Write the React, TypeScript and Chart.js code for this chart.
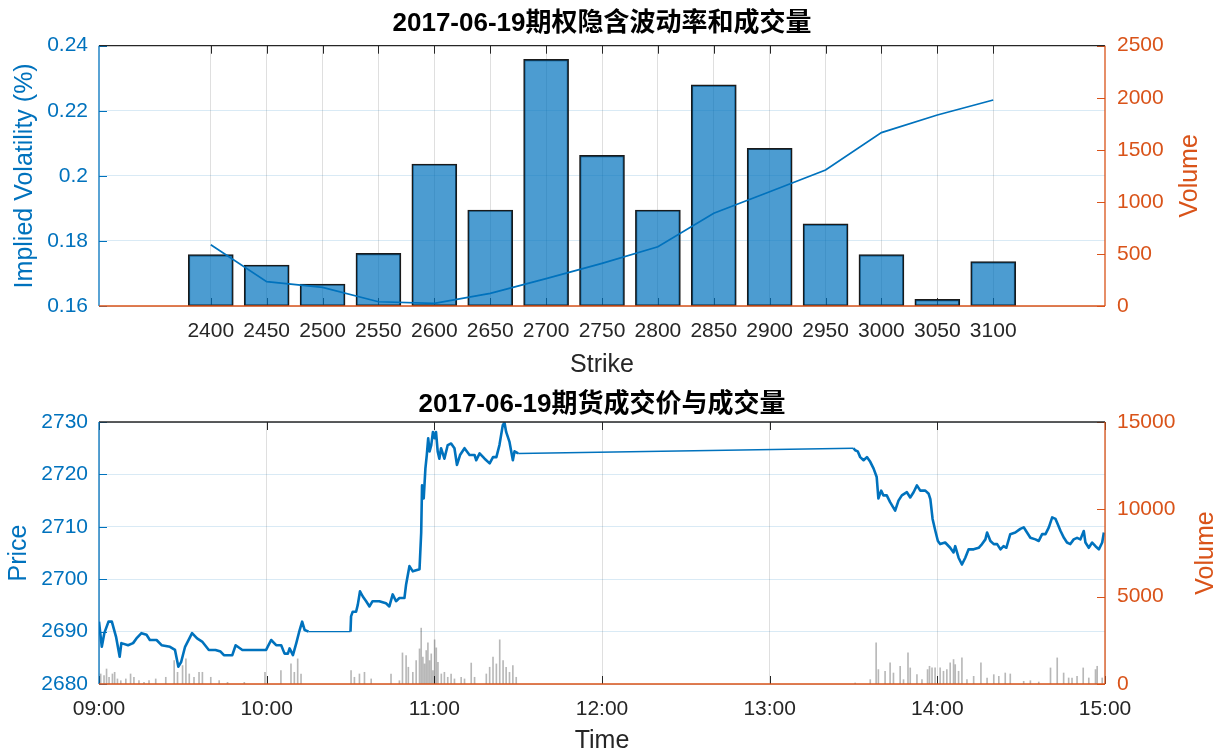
import React, { useEffect, useRef } from 'react';
import { Chart, registerables } from 'chart.js';

Chart.register(...registerables);

const FONT = '"Liberation Sans", Arial, "Noto Sans CJK SC", sans-serif';
const BLUE = '#0072BD';
const ORANGE = '#D95319';
const DARK = '#262626';

// ---------- Top chart: option implied volatility & volume ----------
const strikes = [2400, 2450, 2500, 2550, 2600, 2650, 2700, 2750, 2800, 2850, 2900, 2950, 3000, 3050, 3100];
const optionVolume = [493, 394, 211, 506, 1364, 922, 2369, 1447, 922, 2123, 1515, 788, 493, 64, 426];
const impliedVol = [0.1788, 0.1675, 0.1657, 0.1613, 0.1608, 0.1639, 0.1684, 0.1731, 0.1782, 0.1885, 0.1951, 0.2018, 0.2133, 0.2187, 0.2233];

// ---------- Bottom chart: futures price & volume (minutes after 09:00) ----------
const hourLabels = ['09:00', '10:00', '11:00', '12:00', '13:00', '14:00', '15:00'];

const morning1Minutes = [0, 1.0, 1.9, 3.4, 4.6, 6.1, 7.4, 8.0, 10.4, 12.2, 13.4, 15.2, 17.0, 18.2, 20.6, 22.4, 25.4, 27.2, 28.4, 29.4, 30.8, 33.3, 35.1, 36.9, 39.3, 41.7, 43.5, 44.7, 47.7, 48.9, 51.3, 54.9, 59.8, 61.6, 63.4, 65.2, 66.4, 67.6, 68.2, 69.4, 70.6, 71.8, 72.7, 73.6, 75.0];
const morning1Prices = [2691.9, 2687.1, 2689.7, 2691.9, 2691.9, 2689.0, 2685.2, 2687.8, 2687.4, 2687.8, 2688.7, 2689.7, 2689.4, 2688.4, 2688.4, 2687.4, 2687.1, 2686.5, 2683.3, 2684.2, 2687.1, 2689.7, 2688.7, 2688.1, 2686.5, 2686.5, 2686.2, 2685.5, 2685.5, 2687.4, 2686.5, 2686.5, 2686.5, 2688.4, 2687.4, 2687.4, 2685.8, 2685.8, 2686.8, 2685.5, 2687.8, 2690.3, 2691.9, 2690.3, 2690.0];

const morning2Minutes = [90.0, 90.2, 90.8, 92.0, 92.6, 93.4, 94.4, 95.6, 96.8, 97.9, 100.3, 102.7, 103.9, 105.1, 106.3, 107.5, 109.3, 109.9, 111.1, 112.3, 114.7, 115.3, 115.6, 116.2, 116.8, 117.3, 117.8, 118.3, 118.9, 119.5, 120.1, 120.6, 121.2, 121.8, 122.4, 123.6, 124.8, 126.0, 127.2, 128.1, 129.2, 130.8, 132.6, 134.4, 135.0, 136.2, 138.0, 139.8, 141.0, 142.2, 143.3, 144.5, 145.1, 145.7, 146.9, 148.1, 148.7, 150.0];
const morning2Prices = [2690.0, 2692.9, 2693.8, 2693.8, 2695.1, 2697.7, 2696.7, 2695.8, 2694.8, 2695.8, 2695.8, 2695.4, 2694.8, 2697.1, 2695.8, 2696.4, 2696.4, 2699.0, 2702.5, 2701.5, 2701.9, 2708.9, 2717.9, 2715.4, 2721.1, 2723.7, 2726.9, 2724.4, 2725.6, 2728.1, 2726.9, 2728.1, 2724.4, 2723.0, 2725.0, 2723.0, 2725.6, 2725.9, 2725.0, 2721.8, 2723.7, 2725.0, 2723.7, 2723.7, 2722.7, 2724.0, 2723.0, 2722.1, 2723.3, 2723.3, 2725.6, 2729.4, 2729.9, 2728.1, 2726.2, 2722.7, 2724.4, 2724.0];

const afternoonMinutes = [270.0, 270.6, 271.5, 272.4, 273.6, 274.8, 276.0, 277.2, 278.3, 278.9, 279.9, 280.7, 281.9, 283.1, 284.9, 286.1, 287.3, 289.1, 290.3, 291.5, 292.7, 293.9, 295.7, 296.9, 297.5, 298.3, 299.3, 300.2, 301.0, 302.8, 304.6, 305.8, 306.4, 307.6, 308.8, 310.0, 311.2, 313.0, 314.8, 316.0, 317.2, 317.8, 319.0, 320.2, 321.4, 322.6, 323.7, 324.7, 326.1, 327.9, 329.7, 330.9, 332.1, 333.3, 335.1, 336.3, 337.5, 338.7, 339.9, 341.1, 342.3, 343.1, 344.1, 345.3, 346.4, 347.6, 348.8, 350.0, 351.2, 352.4, 353.0, 354.2, 355.4, 356.6, 357.8, 359.0, 359.6];
const afternoonPrices = [2725.0, 2724.6, 2724.4, 2723.3, 2722.7, 2723.3, 2722.4, 2721.1, 2719.5, 2715.4, 2716.9, 2716.0, 2716.0, 2714.7, 2713.1, 2715.0, 2716.0, 2716.6, 2715.6, 2716.6, 2717.9, 2716.9, 2716.9, 2716.3, 2715.3, 2711.5, 2709.2, 2707.3, 2706.7, 2707.0, 2706.0, 2705.1, 2706.3, 2704.1, 2702.8, 2704.1, 2705.7, 2705.7, 2706.0, 2706.7, 2707.6, 2708.9, 2707.3, 2706.7, 2706.7, 2705.7, 2706.3, 2706.0, 2708.6, 2708.9, 2709.6, 2709.9, 2708.9, 2707.9, 2707.6, 2707.3, 2708.6, 2708.6, 2709.9, 2711.8, 2711.5, 2710.5, 2709.2, 2707.9, 2707.0, 2706.7, 2707.6, 2707.9, 2707.6, 2709.2, 2707.0, 2706.0, 2707.0, 2706.3, 2705.7, 2707.0, 2708.9];

const volMinutes = [0.6, 1.8, 2.7, 3.6, 4.8, 5.6, 6.6, 7.8, 9.6, 11.3, 12.5, 14.3, 16.1, 17.9, 20.3, 23.9, 26.9, 28.1, 29.9, 31.1, 32.3, 34.0, 35.8, 37.0, 40.0, 43.0, 46.0, 52.0, 59.4, 65.1, 68.7, 69.9, 71.1, 72.3,
  90.2, 91.4, 93.2, 95.0, 97.4, 104.5, 107.5, 108.6, 109.9, 110.7, 112.3, 113.5, 114.7, 115.3, 115.9, 116.5, 117.1, 117.7, 118.3, 118.9, 119.5, 120.1, 120.7, 121.3, 122.5, 123.6, 124.8, 126.0, 127.2, 129.6, 130.8, 133.2, 134.4, 138.6, 139.8, 141.0, 142.2, 143.4, 144.6, 145.7, 146.9, 148.1, 149.3,
  270.6, 276.0, 278.1, 278.9, 281.3, 283.1, 284.3, 286.7, 287.9, 289.5, 290.3, 292.7, 294.5, 296.5, 297.2, 298.1, 299.2, 301.0, 302.2, 303.4, 304.6, 305.8, 306.4, 307.6, 308.8, 310.6, 313.0, 315.6, 317.8, 320.2, 322.0, 324.3, 326.1, 330.9, 333.3, 336.3, 340.5, 342.9, 345.2, 347.0, 348.2, 350.0, 352.2, 354.2, 356.6, 357.2, 359.0];
const volValues = [575, 480, 860, 385, 575, 670, 290, 190, 290, 575, 385, 190, 95, 190, 290, 385, 1340, 670, 1055, 1440, 575, 385, 670, 670, 385, 190, 95, 95, 670, 765, 1150, 670, 1440, 575,
  765, 385, 575, 670, 290, 575, 190, 1780, 1630, 960, 670, 1340, 2010, 3200, 1535, 1150, 1915, 2360, 1340, 1725, 765, 2530, 2070, 1245, 575, 670, 385, 575, 290, 385, 290, 1200, 385, 575, 960, 1535, 1150, 2530, 1340, 960, 670, 1055, 385,
  60, 250, 2360, 825, 730, 1210, 630, 1015, 250, 1780, 920, 535, 250, 825, 1015, 920, 920, 920, 730, 825, 1210, 1400, 1110, 730, 1495, 250, 440, 1210, 345, 535, 440, 630, 575, 155, 190, 115, 920, 1495, 630, 345, 345, 440, 920, 345, 825, 1015, 345];

const W = 1229;
const TOP_H = 380;
const BOT_H = 376;

function framePlugin(rightTitle: string, rightTitleX: number) {
  return {
    id: 'frame',
    beforeDatasetsDraw(chart: any) {
      const { ctx, chartArea: a, scales } = chart;
      const L = 8;
      ctx.save();
      ctx.lineWidth = 1;
      ctx.strokeStyle = DARK;
      scales.x.ticks.forEach((t: any) => {
        const p = Math.round(scales.x.getPixelForValue(t.value)) + 0.5;
        ctx.beginPath();
        ctx.moveTo(p, a.top);
        ctx.lineTo(p, a.top + L);
        ctx.moveTo(p, a.bottom);
        ctx.lineTo(p, a.bottom - L);
        ctx.stroke();
      });
      ctx.strokeStyle = BLUE;
      scales.y.ticks.forEach((t: any) => {
        const p = Math.round(scales.y.getPixelForValue(t.value)) + 0.5;
        ctx.beginPath();
        ctx.moveTo(a.left, p);
        ctx.lineTo(a.left + L, p);
        ctx.stroke();
      });
      ctx.strokeStyle = ORANGE;
      scales.y1.ticks.forEach((t: any) => {
        const p = Math.round(scales.y1.getPixelForValue(t.value)) + 0.5;
        ctx.beginPath();
        ctx.moveTo(a.right, p);
        ctx.lineTo(a.right - L, p);
        ctx.stroke();
      });
      ctx.restore();
    },
    afterDatasetsDraw(chart: any) {
      const { ctx, chartArea: a } = chart;
      ctx.save();
      ctx.lineWidth = 1.3;
      ctx.strokeStyle = DARK;
      ctx.beginPath();
      ctx.moveTo(a.left, a.top);
      ctx.lineTo(a.right, a.top);
      ctx.stroke();
      ctx.strokeStyle = BLUE;
      ctx.beginPath();
      ctx.moveTo(a.left, a.top);
      ctx.lineTo(a.left, a.bottom);
      ctx.stroke();
      ctx.strokeStyle = ORANGE;
      ctx.beginPath();
      ctx.moveTo(a.left, a.bottom);
      ctx.lineTo(a.right, a.bottom);
      ctx.moveTo(a.right, a.top);
      ctx.lineTo(a.right, a.bottom);
      ctx.stroke();
      ctx.restore();
    },
    afterDraw(chart: any) {
      const { ctx, chartArea: a } = chart;
      ctx.save();
      ctx.font = `25px ${FONT}`;
      ctx.fillStyle = ORANGE;
      ctx.textAlign = 'center';
      ctx.textBaseline = 'middle';
      ctx.translate(rightTitleX, (a.top + a.bottom) / 2);
      ctx.rotate(-Math.PI / 2);
      ctx.fillText(rightTitle, 0, 0);
      ctx.restore();
    },
  };
}

const tickFont = { family: FONT, size: 21 };
const labelFont = { family: FONT, size: 25, lineHeight: 1.2 };
const titleFont = { family: FONT, size: 26, weight: 'bold', lineHeight: 1.2 };
const plain = (v: any) => String(Number(Number(v).toFixed(4)));

export default function App() {
  const topRef = useRef<HTMLCanvasElement>(null);
  const botRef = useRef<HTMLCanvasElement>(null);

  useEffect(() => {
    const top = new Chart(topRef.current as HTMLCanvasElement, {
      type: 'bar',
      data: {
        datasets: [
          {
            type: 'line',
            label: 'Implied Volatility',
            data: strikes.map((s, i) => ({ x: s, y: impliedVol[i] })),
            yAxisID: 'y',
            borderColor: BLUE,
            borderWidth: 1.7,
            pointRadius: 0,
            tension: 0,
            order: 0,
          } as any,
          {
            type: 'bar',
            label: 'Volume',
            data: strikes.map((s, i) => ({ x: s, y: optionVolume[i] })),
            yAxisID: 'y1',
            backgroundColor: 'rgba(0,114,189,0.7)',
            borderColor: '#1a1a1a',
            borderWidth: 1.5,
            borderSkipped: false,
            barThickness: 45,
            order: 1,
          } as any,
        ],
      },
      options: {
        animation: false,
        responsive: false,
        devicePixelRatio: 1,
        layout: { padding: 0 },
        plugins: {
          legend: { display: false },
          tooltip: { enabled: false },
          title: {
            display: true,
            fullSize: false,
            text: '2017-06-19期权隐含波动率和成交量',
            color: '#000',
            font: titleFont,
            padding: { top: 8.4, bottom: 6.1 },
          },
        },
        scales: {
          x: {
            type: 'linear',
            position: 'bottom',
            offset: false,
            min: 2300,
            max: 3200,
            afterBuildTicks: (s: any) => { s.ticks = strikes.map((v) => ({ value: v })); },
            afterFit: (s: any) => { s.height = TOP_H - 306; },
            grid: { color: 'rgba(38,38,38,0.15)', drawTicks: false, offset: false },
            border: { display: false },
            ticks: { color: DARK, font: tickFont, padding: 13, maxRotation: 0, autoSkip: false, callback: plain },
            title: { display: true, text: 'Strike', color: DARK, font: labelFont, padding: { top: 0, bottom: 0 } },
          },
          y: {
            position: 'left',
            min: 0.16,
            max: 0.24,
            afterFit: (s: any) => { s.width = 99; },
            grid: { color: 'rgba(0,114,189,0.15)', drawTicks: false },
            border: { display: false },
            ticks: { stepSize: 0.02, color: BLUE, font: tickFont, padding: 11, callback: (v: any) => String(Number(Number(v).toFixed(2))) },
            title: { display: true, text: 'Implied Volatility (%)', color: BLUE, font: labelFont, padding: { top: 10, bottom: 0 } },
          },
          y1: {
            position: 'right',
            min: 0,
            max: 2500,
            afterFit: (s: any) => { s.width = W - 1105; },
            grid: { display: false, drawTicks: false },
            border: { display: false },
            ticks: { stepSize: 500, color: ORANGE, font: tickFont, padding: 12, callback: plain },
          },
        },
      } as any,
      plugins: [framePlugin('Volume', 1190) as any],
    });

    const priceMinutes = [...morning1Minutes, ...morning2Minutes, ...afternoonMinutes];
    const prices = [...morning1Prices, ...morning2Prices, ...afternoonPrices];

    const bot = new Chart(botRef.current as HTMLCanvasElement, {
      type: 'bar',
      data: {
        datasets: [
          {
            type: 'line',
            label: 'Price',
            data: priceMinutes.map((m, i) => ({ x: m, y: prices[i] })),
            yAxisID: 'y',
            borderColor: BLUE,
            borderWidth: 2.6,
            borderJoinStyle: 'round',
            pointRadius: 0,
            tension: 0,
            order: 0,
            segment: {
              borderWidth: (c: any) => (c.p1.parsed.x - c.p0.parsed.x > 10 ? 1.4 : 2.6),
            },
          } as any,
          {
            type: 'bar',
            label: 'Volume',
            data: volMinutes.map((m, i) => ({ x: m, y: volValues[i] })),
            yAxisID: 'y1',
            backgroundColor: 'rgba(0,0,0,0.28)',
            borderWidth: 0,
            barThickness: 1,
            order: 1,
          } as any,
        ],
      },
      options: {
        animation: false,
        responsive: false,
        devicePixelRatio: 1,
        layout: { padding: 0 },
        plugins: {
          legend: { display: false },
          tooltip: { enabled: false },
          title: {
            display: true,
            fullSize: false,
            text: '2017-06-19期货成交价与成交量',
            color: '#000',
            font: titleFont,
            padding: { top: 9.4, bottom: 1.4 },
          },
        },
        scales: {
          x: {
            type: 'linear',
            position: 'bottom',
            offset: false,
            min: 0,
            max: 360,
            afterBuildTicks: (s: any) => { s.ticks = hourLabels.map((_, i) => ({ value: i * 60 })); },
            afterFit: (s: any) => { s.height = BOT_H - 304; },
            grid: { color: 'rgba(38,38,38,0.15)', drawTicks: false, offset: false },
            border: { display: false },
            ticks: { color: DARK, font: tickFont, padding: 13, maxRotation: 0, autoSkip: false, callback: (_v: any, i: number) => hourLabels[i] },
            title: { display: true, text: 'Time', color: DARK, font: labelFont, padding: { top: 0, bottom: 0 } },
          },
          y: {
            position: 'left',
            min: 2680,
            max: 2730,
            afterFit: (s: any) => { s.width = 99; },
            grid: { color: 'rgba(0,114,189,0.15)', drawTicks: false },
            border: { display: false },
            ticks: { stepSize: 10, color: BLUE, font: tickFont, padding: 11, callback: plain },
            title: { display: true, text: 'Price', color: BLUE, font: labelFont, padding: { top: 4, bottom: 0 } },
          },
          y1: {
            position: 'right',
            min: 0,
            max: 15000,
            afterFit: (s: any) => { s.width = W - 1105; },
            grid: { display: false, drawTicks: false },
            border: { display: false },
            ticks: { stepSize: 5000, color: ORANGE, font: tickFont, padding: 12, callback: plain },
          },
        },
      } as any,
      plugins: [framePlugin('Volume', 1206) as any],
    });

    return () => {
      top.destroy();
      bot.destroy();
    };
  }, []);

  return (
    <div style={{ position: 'fixed', left: 0, top: 0, width: W, height: TOP_H + BOT_H, background: '#fff' }}>
      <canvas ref={topRef} width={W} height={TOP_H} style={{ display: 'block', width: W, height: TOP_H }} />
      <canvas ref={botRef} width={W} height={BOT_H} style={{ display: 'block', width: W, height: BOT_H }} />
    </div>
  );
}
